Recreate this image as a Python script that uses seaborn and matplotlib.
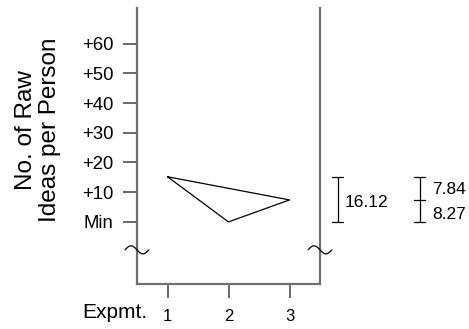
import numpy as np
import pandas as pd
import matplotlib
matplotlib.use("Agg")
import matplotlib.pyplot as plt
import seaborn as sns

# values (ideas counted relative to "Min")
experiments = [1, 2, 3]
raw_ideas = [15.2, 0.0, 7.4]

ytick_values = [0, 10, 20, 30, 40, 50, 60]
ytick_labels = ["Min", "+10", "+20", "+30", "+40", "+50", "+60"]
xtick_values = [1, 2, 3]

# range bars drawn to the right of the plot
range_span = [0.0, 15.2]
range_label = "16.12"
split_mid = 7.4
split_labels = ["7.84", "8.27"]

sns.set_style("white", {"text.color": "black", "xtick.color": "black", "ytick.color": "black"})
plt.rcParams["font.family"] = ["Liberation Sans", "DejaVu Sans"]

fig = plt.figure(figsize=(4.69, 3.29), dpi=100)
ax = fig.add_axes([137 / 469, 1 - 284 / 329, 183 / 469, 276 / 329])

# closed triangle through the three experiment means
df = pd.DataFrame({"expmt": experiments + experiments[:1], "ideas": raw_ideas + raw_ideas[:1]})
sns.lineplot(data=df, x="expmt", y="ideas", sort=False, estimator=None,
             color="black", lw=0.9, ax=ax)

ax.set_xlim(0.5, 3.5)
ax.set_ylim(-20.9, 72.0)
ax.set_xticks(xtick_values)
ax.set_xticklabels([str(v) for v in xtick_values], fontsize=12, color="black")
ax.set_yticks(ytick_values)
ax.set_yticklabels(ytick_labels, fontsize=13.3, color="black")
ax.set_xlabel("")
ax.set_ylabel("")

for side in ["left", "right", "bottom"]:
    ax.spines[side].set_visible(True)
    ax.spines[side].set_color("#707070")
    ax.spines[side].set_linewidth(1.6)
ax.spines["top"].set_visible(False)
ax.tick_params(axis="both", direction="out", length=10, width=1.1,
               color="#404040", left=True, bottom=True)
ax.tick_params(axis="y", pad=7)
ax.tick_params(axis="x", pad=8)

# axis-break squiggles on both vertical axes
t = np.linspace(-np.pi, np.pi, 60)
for x0 in [0.5, 3.5]:
    ax.plot(x0 + 0.195 * t / np.pi, -9.4 - 1.35 * np.sin(t), color="black",
            lw=0.9, clip_on=False, zorder=5)

# range bar with its value
bx1, bx2, cap = 3.787, 5.139, 0.09
ax.plot([bx1, bx1], range_span, color="black", lw=0.9, clip_on=False)
for yv in range_span:
    ax.plot([bx1 - cap, bx1 + cap], [yv, yv], color="black", lw=0.9, clip_on=False)
ax.text(bx1 + 0.12, 6.4, range_label, fontsize=12.5, color="black",
        va="center", ha="left", clip_on=False)

# split bar with the two part values
ax.plot([bx2, bx2], range_span, color="black", lw=0.9, clip_on=False)
for yv in range_span + [split_mid]:
    ax.plot([bx2 - cap, bx2 + cap], [yv, yv], color="black", lw=0.9, clip_on=False)
ax.text(bx2 + 0.2, 10.8, split_labels[0], fontsize=12.5, color="black",
        va="center", ha="left", clip_on=False)
ax.text(bx2 + 0.2, 2.4, split_labels[1], fontsize=12.5, color="black",
        va="center", ha="left", clip_on=False)

fig.text(38 / 469, 1 - 130 / 329, "No. of Raw\nIdeas per Person", rotation=90,
         ha="center", va="center", multialignment="center", fontsize=17.5,
         linespacing=1.1, color="black")
fig.text(147 / 469, 1 - 318 / 329, "Expmt.", ha="right", va="baseline",
         fontsize=15, color="black")

fig.savefig("out.png", dpi=100)
